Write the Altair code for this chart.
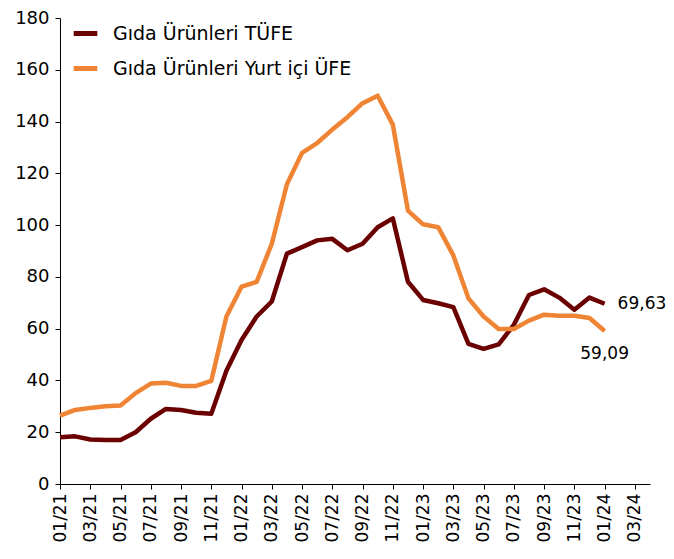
import json
import altair as alt
import pandas as pd

months = ["01/21", "02/21", "03/21", "04/21", "05/21", "06/21", "07/21", "08/21", "09/21", "10/21", "11/21", "12/21",
          "01/22", "02/22", "03/22", "04/22", "05/22", "06/22", "07/22", "08/22", "09/22", "10/22", "11/22", "12/22",
          "01/23", "02/23", "03/23", "04/23", "05/23", "06/23", "07/23", "08/23", "09/23", "10/23", "11/23", "12/23",
          "01/24", "02/24", "03/24"]

series_names = ["Gıda Ürünleri TÜFE", "Gıda Ürünleri Yurt içi ÜFE"]

tufe = [18.1, 18.4, 17.2, 17.0, 17.0, 20.0, 25.2, 29.0, 28.6, 27.5, 27.1, 43.7,
        55.6, 64.7, 70.5, 89.0, 91.5, 94.1, 94.7, 90.3, 92.8, 99.2, 102.6, 78.1,
        71.1, 69.8, 68.3, 54.1, 52.2, 53.9, 61.5, 73.0, 75.2, 72.0, 67.3, 72.0,
        69.63]

ufe = [26.4, 28.6, 29.4, 30.0, 30.3, 35.1, 38.8, 39.1, 37.9, 37.9, 39.8, 64.7,
       76.2, 78.1, 92.8, 115.8, 127.9, 131.7, 136.9, 141.7, 147.1, 150.0, 138.8, 105.6,
       100.3, 99.2, 88.3, 71.7, 64.7, 59.9, 59.9, 63.1, 65.4, 65.0, 65.0, 64.1,
       59.09]

end_labels = ["69,63", "59,09"]

colors = ["#6B0000", "#EF8434"]

rows = []
for name, vals in zip(series_names, [tufe, ufe]):
    for i, v in enumerate(vals):
        rows.append({"idx": i, "month": months[i], "value": v, "series": name})
df = pd.DataFrame(rows)

end_df = pd.DataFrame({
    "idx": [len(tufe) - 1, len(ufe) - 1],
    "value": [tufe[-1], ufe[-1]],
    "label": end_labels,
    "series": series_names,
})

FONT = "DejaVu Sans"
label_expr = json.dumps(months) + "[datum.value]"
x_ticks = list(range(0, len(months), 2))

x = alt.X("idx:Q",
          scale=alt.Scale(domain=[0, len(months)], nice=False, zero=False),
          axis=alt.Axis(values=x_ticks, tickCount=len(x_ticks), labelExpr=label_expr,
                        labelAngle=-90, labelAlign="right", labelBaseline="middle",
                        labelOverlap=False, labelBound=False, labelSeparation=0,
                        grid=False, domainColor="black", tickColor="black", tickSize=5,
                        labelFontSize=17, labelColor="black", labelFont=FONT, labelPadding=4,
                        title=None))
y = alt.Y("value:Q",
          scale=alt.Scale(domain=[0, 180], nice=False),
          axis=alt.Axis(values=list(range(0, 181, 20)), grid=False, domainColor="black",
                        tickColor="black", tickSize=5, labelFontSize=18, labelColor="black",
                        labelFont=FONT, labelPadding=6, labelOverlap=False, title=None))

lines = alt.Chart(df).mark_line(strokeWidth=4.5, strokeJoin="round").encode(
    x=x, y=y,
    color=alt.Color("series:N",
                    scale=alt.Scale(domain=series_names, range=colors),
                    sort=series_names,
                    legend=alt.Legend(title=None, orient="none", legendX=11, legendY=1,
                                      symbolType="stroke", symbolStrokeWidth=5, symbolSize=560,
                                      labelFontSize=19, labelFont=FONT, labelColor="black",
                                      labelLimit=0, rowPadding=10, labelOffset=13)),
)

text_top = alt.Chart(end_df).transform_filter(alt.datum.label == end_labels[0]).mark_text(
    align="left", baseline="middle", dx=13, fontSize=17, font=FONT, color="black"
).encode(x="idx:Q", y="value:Q", text="label:N")

text_bot = alt.Chart(end_df).transform_filter(alt.datum.label == end_labels[1]).mark_text(
    align="center", baseline="middle", dx=0, dy=23, fontSize=17, font=FONT, color="black"
).encode(x="idx:Q", y="value:Q", text="label:N")

chart = alt.layer(lines, text_top, text_bot).properties(
    width=590, height=466,
    autosize=alt.AutoSizeParams(type="none"),
    padding={"left": 52, "top": 10, "right": 16, "bottom": 67},
).configure_view(stroke=None).configure_axis(labelOverlap=False)

chart.save("out.html", embed_options={"renderer": "svg", "actions": False})
